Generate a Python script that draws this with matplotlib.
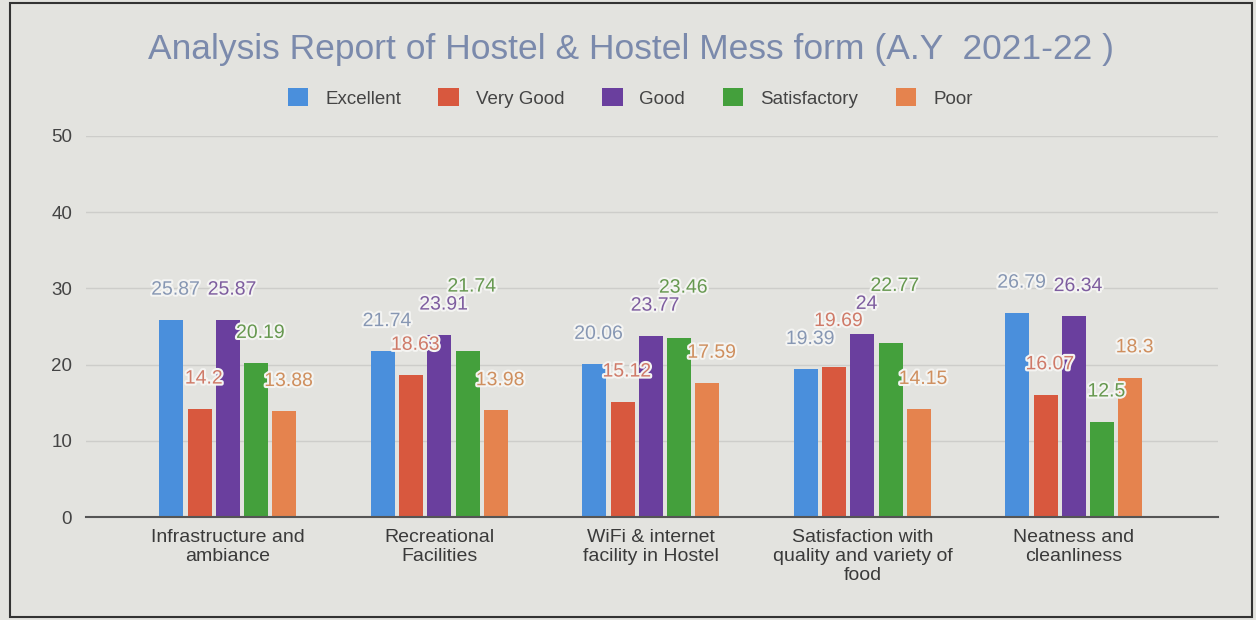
import matplotlib
matplotlib.use("Agg")
import matplotlib.pyplot as plt
import matplotlib.patheffects as pe
from matplotlib.patches import Rectangle
import numpy as np

plt.rcParams['font.family'] = ['Liberation Sans', 'DejaVu Sans']

categories = ["Infrastructure and\nambiance", "Recreational\nFacilities",
              "WiFi & internet\nfacility in Hostel",
              "Satisfaction with\nquality and variety of\nfood",
              "Neatness and\ncleanliness"]
series_names = ["Excellent", "Very Good", "Good", "Satisfactory", "Poor"]
excellent = [25.87, 21.74, 20.06, 19.39, 26.79]
very_good = [14.2, 18.63, 15.12, 19.69, 16.07]
good = [25.87, 23.91, 23.77, 24, 26.34]
satisfactory = [20.19, 21.74, 23.46, 22.77, 12.5]
poor = [13.88, 13.98, 17.59, 14.15, 18.3]
yticks = [0, 10, 20, 30, 40, 50]

series = [excellent, very_good, good, satisfactory, poor]
colors = ["#4a8fdc", "#d8583e", "#6a3f9e", "#44a03c", "#e5834e"]
label_colors = ["#8797b3", "#cf7a68", "#7e5d9f", "#66984f", "#cf8f5e"]

bg = "#e3e3df"
fig = plt.figure(figsize=(12.56, 6.20), dpi=100, facecolor=bg)
ax = fig.add_axes([86/1256, 1-517/620, (1218-86)/1256, (517-136)/620])
ax.set_facecolor(bg)

x = np.arange(len(categories))
pitch = 0.1336
width = 0.1135
labels = [[] for _ in categories]
for i, (vals, c, lc, name) in enumerate(zip(series, colors, label_colors, series_names)):
    pos = x + (i - 2) * pitch
    ax.bar(pos, vals, width=width, color=c, label=name, zorder=3)
    for k, (px, v) in enumerate(zip(pos, vals)):
        t = ax.text(px + 0.02, v + 3.9, f"{v:g}", ha='center', va='center', fontsize=14,
                    color=lc, zorder=5)
        t.set_path_effects([pe.withStroke(linewidth=3, foreground="#f4f4f2")])
        labels[k].append(t)

ax.set_xlim(-0.671, 4.681)
ax.set_ylim(0, 50)
ax.set_yticks(yticks)
ax.set_yticklabels([str(v) for v in yticks], fontsize=13.5, color="#444444")
ax.set_xticks(x)
ax.set_xticklabels(categories, fontsize=14, color="#3a3a3a", linespacing=1.15)
ax.tick_params(axis='both', length=0)
ax.tick_params(axis='y', pad=10)
ax.tick_params(axis='x', pad=9)
for s in ['top', 'right', 'left']:
    ax.spines[s].set_visible(False)
ax.spines['bottom'].set_color("#555555")
ax.spines['bottom'].set_linewidth(1.5)
ax.spines['bottom'].set_zorder(4)
ax.yaxis.grid(True, color="#cdcdca", linewidth=1, zorder=0)
ax.set_axisbelow(True)

fig.text(631/1256, 1-50/620, "Analysis Report of Hostel & Hostel Mess form (A.Y  2021-22 )",
         ha='center', va='center', fontsize=25.5, color="#7b8aac")

leg = fig.legend(loc='center', bbox_to_anchor=(630/1256, 1-98/620), ncol=5, frameon=False,
                 fontsize=13.5, handlelength=1.1, handleheight=1.1, handletextpad=0.9,
                 columnspacing=2.0, labelcolor="#444444")

fig.patches.append(Rectangle((10/1256, 3/620), 1242/1256, 614/620, transform=fig.transFigure,
                             fill=False, edgecolor="#333333", linewidth=1.5))

# simple collision avoidance for data labels: nudge overlapping labels upward
fig.canvas.draw()
renderer = fig.canvas.get_renderer()
to_data = ax.transData.inverted()
for group in labels:
    placed = []
    for t in group:
        for _ in range(20):
            bb = t.get_window_extent(renderer).expanded(1.0, 1.0)
            hit = [p for p in placed if bb.overlaps(p)]
            if not hit:
                break
            top = max(p.y1 for p in hit)
            dy = top - bb.y0 + 1
            xd, yd = t.get_position()
            y_disp = ax.transData.transform((xd, yd))[1] + dy
            t.set_y(to_data.transform((0, y_disp))[1])
        placed.append(t.get_window_extent(renderer))

fig.savefig("out.png", dpi=100, facecolor=bg)
